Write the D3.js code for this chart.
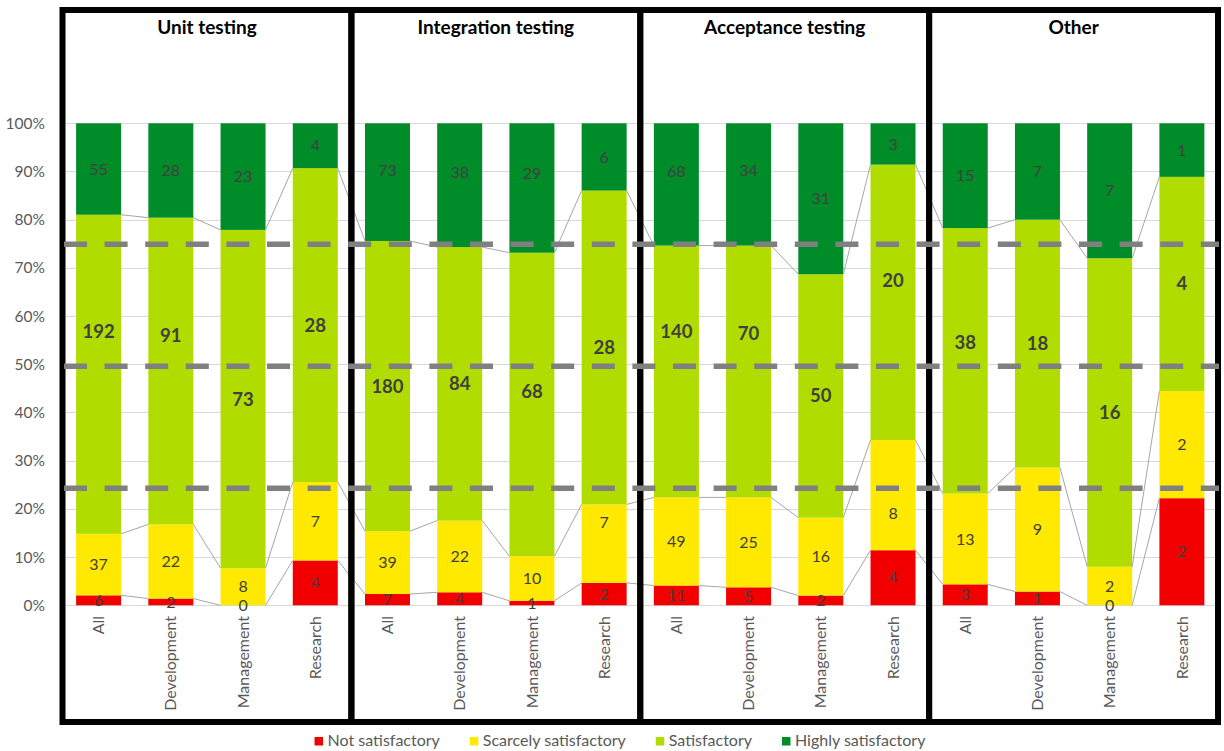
<!DOCTYPE html>
<html>
<head>
<meta charset="utf-8">
<script src="https://cdn.jsdelivr.net/npm/d3@7"></script>
<style>
  html, body { margin: 0; padding: 0; background: #fff; }
  svg { display: block; font-family: Lato, "Open Sans", sans-serif; }
</style>
</head>
<body>
<svg id="chart" width="1224" height="751"></svg>
<script>
// Testing-phase satisfaction by role
const groups = ["Unit testing", "Integration testing", "Acceptance testing", "Other"];
const roles = ["All", "Development", "Management", "Research"];
const seriesNames = ["Not satisfactory", "Scarcely satisfactory", "Satisfactory", "Highly satisfactory"];

// one value per (group, role), in group order
const notSatisfactory      = [6, 2, 0, 4,     7, 4, 1, 2,     11, 5, 2, 4,    3, 1, 0, 2];
const scarcelySatisfactory = [37, 22, 8, 7,   39, 22, 10, 7,  49, 25, 16, 8,  13, 9, 2, 2];
const satisfactory         = [192, 91, 73, 28, 180, 84, 68, 28, 140, 70, 50, 20, 38, 18, 16, 4];
const highlySatisfactory   = [55, 28, 23, 4,  73, 38, 29, 6,  68, 34, 31, 3,  15, 7, 7, 1];

const yTickValues = [0, 0.1, 0.2, 0.3, 0.4, 0.5, 0.6, 0.7, 0.8, 0.9, 1];
const referenceLevels = [0.243, 0.496, 0.749];

const colors = ["#f20000", "#ffe900", "#b0dc00", "#008c29"];

// hand-placed label offsets (px) so labels clear the reference lines
const labelNudge = {
  "Unit testing|All|Satisfactory": -43,
  "Unit testing|Development|Satisfactory": -36,
  "Integration testing|Management|Satisfactory": -13,
  "Acceptance testing|All|Satisfactory": -40,
  "Acceptance testing|Development|Satisfactory": -38,
  "Acceptance testing|Research|Satisfactory": -22,
  "Other|All|Satisfactory": -18,
  "Integration testing|All|Highly satisfactory": -12,
  "Integration testing|Development|Highly satisfactory": -13,
  "Integration testing|Management|Highly satisfactory": -15,
  "Acceptance testing|All|Highly satisfactory": -13,
  "Acceptance testing|Development|Highly satisfactory": -14,
  "Integration testing|Research|Scarcely satisfactory": -21,
  "Acceptance testing|Research|Scarcely satisfactory": 18
};

const seriesValues = [notSatisfactory, scarcelySatisfactory, satisfactory, highlySatisfactory];
const rows = [];
groups.forEach((g, gi) => roles.forEach((r, ri) => {
  const i = gi * roles.length + ri;
  const row = { key: g + "|" + r, group: g, role: r };
  seriesNames.forEach((s, si) => row[s] = seriesValues[si][i]);
  rows.push(row);
}));

const stacked = d3.stack().keys(seriesNames).offset(d3.stackOffsetExpand)(rows);

const svg = d3.select("#chart");

const x = d3.scaleBand()
  .domain(rows.map(d => d.key))
  .range([62.5, 1218])
  .paddingInner(0.377)
  .paddingOuter(0.1885);
const y = d3.scaleLinear().domain([0, 1]).range([605.3, 123.3]);

const plotLeft = x.range()[0], plotRight = x.range()[1];

// gridlines
svg.append("g").selectAll("line").data(yTickValues).join("line")
  .attr("x1", plotLeft).attr("x2", plotRight)
  .attr("y1", d => Math.round(y(d)) + 0.5).attr("y2", d => Math.round(y(d)) + 0.5)
  .attr("stroke", "#d9d9d9").attr("stroke-width", 1);

// y axis labels
const yAxis = d3.axisLeft(y).tickValues(yTickValues).tickFormat(d3.format(".0%")).tickSize(0).tickPadding(0);
const yAxisG = svg.append("g").attr("transform", "translate(45,0)").call(yAxis);
yAxisG.select(".domain").remove();
yAxisG.selectAll("text").attr("fill", "#595959").style("font-size", "15.5px").style("font-family", "Lato, 'Open Sans', sans-serif");

// stacked bars
svg.append("g").selectAll("g").data(stacked).join("g")
  .attr("fill", (d, i) => colors[i])
  .selectAll("rect").data(d => d).join("rect")
  .attr("x", d => x(d.data.key))
  .attr("width", x.bandwidth())
  .attr("y", d => y(d[1]))
  .attr("height", d => y(d[0]) - y(d[1]));

// series lines joining segment tops of neighbouring bars
const seriesLine = svg.append("g").attr("fill", "none").attr("stroke", "#a6a6a6").attr("stroke-width", 1);
stacked.slice(0, 3).forEach(layer => {
  for (let i = 0; i < layer.length - 1; i++) {
    const a = layer[i], b = layer[i + 1];
    seriesLine.append("line")
      .attr("x1", x(a.data.key) + x.bandwidth()).attr("y1", y(a[1]))
      .attr("x2", x(b.data.key)).attr("y2", y(b[1]));
  }
});

// x category labels
svg.append("g").selectAll("text").data(rows).join("text")
  .attr("transform", d => `translate(${x(d.key) + x.bandwidth() / 2},616) rotate(-90)`)
  .attr("text-anchor", "end")
  .attr("dy", "0.35em")
  .attr("fill", "#595959")
  .style("font-size", "16px")
  .text(d => d.role);

// group frames
const step = x.step();
const frames = svg.append("g");
groups.forEach((g, gi) => {
  const x0 = plotLeft + step * roles.length * gi;
  const x1 = x0 + step * roles.length;
  frames.append("rect")
    .attr("x", x0).attr("y", 10).attr("width", x1 - x0).attr("height", 712)
    .attr("fill", "none").attr("stroke", "#000").attr("stroke-width", 6);
  frames.append("text")
    .attr("x", (x0 + x1) / 2).attr("y", 34)
    .attr("text-anchor", "middle")
    .attr("fill", "#000")
    .style("font-size", "19px").style("font-weight", "bold")
    .text(g);
});

// reference lines
svg.append("g").selectAll("line").data(referenceLevels).join("line")
  .attr("x1", 64).attr("x2", 1219)
  .attr("y1", d => y(d)).attr("y2", d => y(d))
  .attr("stroke", "#808080").attr("stroke-width", 5.5)
  .attr("stroke-dasharray", "23,17.6");

// data labels
const labels = svg.append("g").attr("text-anchor", "middle").attr("fill", "#404040");
stacked.forEach((layer, si) => {
  labels.selectAll(null).data(layer).join("text")
    .attr("x", d => x(d.data.key) + x.bandwidth() / 2)
    .attr("y", d => (y(d[0]) + y(d[1])) / 2 + (labelNudge[d.data.key + "|" + layer.key] || 0))
    .attr("dy", "0.35em")
    .style("font-size", si === 2 ? "18.5px" : "16px")
    .style("font-weight", si === 2 ? "bold" : "normal")
    .text(d => d.data[layer.key]);
});

// legend
const legend = svg.append("g");
let lx = 0;
seriesNames.forEach((s, i) => {
  const item = legend.append("g").attr("transform", `translate(${lx},0)`);
  item.append("rect").attr("x", 0).attr("y", -9).attr("width", 8.5).attr("height", 8.5).attr("fill", colors[i]);
  const t = item.append("text").attr("x", 13).attr("y", 0)
    .attr("fill", "#595959").style("font-size", "16px").text(s);
  lx += 13 + t.node().getComputedTextLength() + 30;
});
const legendWidth = lx - 30;
legend.attr("transform", `translate(${620 - legendWidth / 2},746)`);
</script>
</body>
</html>
